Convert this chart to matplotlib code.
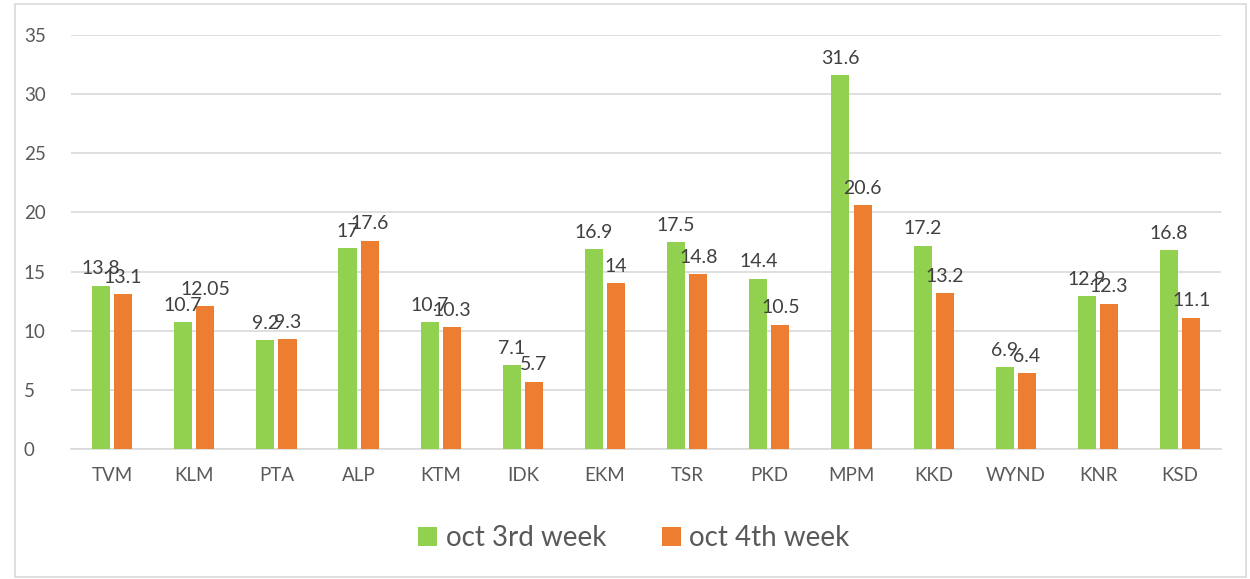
import matplotlib.pyplot as plt
import numpy as np
from matplotlib.patches import Rectangle

districts = ['TVM', 'KLM', 'PTA', 'ALP', 'KTM', 'IDK', 'EKM', 'TSR', 'PKD', 'MPM', 'KKD', 'WYND', 'KNR', 'KSD']
week3 = [13.8, 10.7, 9.2, 17, 10.7, 7.1, 16.9, 17.5, 14.4, 31.6, 17.2, 6.9, 12.9, 16.8]
week4 = [13.1, 12.05, 9.3, 17.6, 10.3, 5.7, 14, 14.8, 10.5, 20.6, 13.2, 6.4, 12.3, 11.1]
week3_lbl = ['13.8', '10.7', '9.2', '17', '10.7', '7.1', '16.9', '17.5', '14.4', '31.6', '17.2', '6.9', '12.9', '16.8']
week4_lbl = ['13.1', '12.05', '9.3', '17.6', '10.3', '5.7', '14', '14.8', '10.5', '20.6', '13.2', '6.4', '12.3', '11.1']

plt.rcParams['font.family'] = ['Lato', 'DejaVu Sans']
txt = '#595959'

fig = plt.figure(figsize=(12.5, 5.79), dpi=100)
fig.patches.append(Rectangle((0.012, 0.003), 0.985, 0.99, transform=fig.transFigure,
                             fill=False, edgecolor='#d9d9d9', linewidth=1.2))
ax = fig.add_axes([0.0568, 0.2245, 0.9202, 0.7151])

x = np.arange(len(districts))
w = 0.22
b1 = ax.bar(x - w / 2 - 0.025, week3, w, color='#92d050', label='oct 3rd week', zorder=3)
b2 = ax.bar(x + w / 2 + 0.025, week4, w, color='#ed7d31', label='oct 4th week', zorder=3)
ax.bar_label(b1, labels=week3_lbl, padding=6, fontsize=14, color='#404040')
ax.bar_label(b2, labels=week4_lbl, padding=6, fontsize=14, color='#404040')

ax.set_xlim(-0.5, len(districts) - 0.5)
ax.set_ylim(0, 35)
ax.set_yticks(range(0, 36, 5))
ax.set_xticks(x)
ax.set_xticklabels(districts)
ax.tick_params(axis='both', length=0, labelsize=13.5, colors=txt)
ax.tick_params(axis='x', pad=13)
ax.tick_params(axis='y', pad=34)
for lbl in ax.get_yticklabels():
    lbl.set_horizontalalignment('left')
ax.grid(axis='y', color='#d9d9d9', linewidth=1.2, zorder=0)
for s in ['top', 'right', 'left']:
    ax.spines[s].set_visible(False)
ax.spines['bottom'].set_color('#d9d9d9')
ax.spines['bottom'].set_linewidth(1.2)

fig.legend(loc='center', bbox_to_anchor=(0.507, 0.07), ncol=2, frameon=False,
           fontsize=20, handlelength=0.7, handleheight=0.7, handletextpad=0.3,
           columnspacing=2.0, labelcolor=txt)

fig.savefig('out.png', dpi=100)
